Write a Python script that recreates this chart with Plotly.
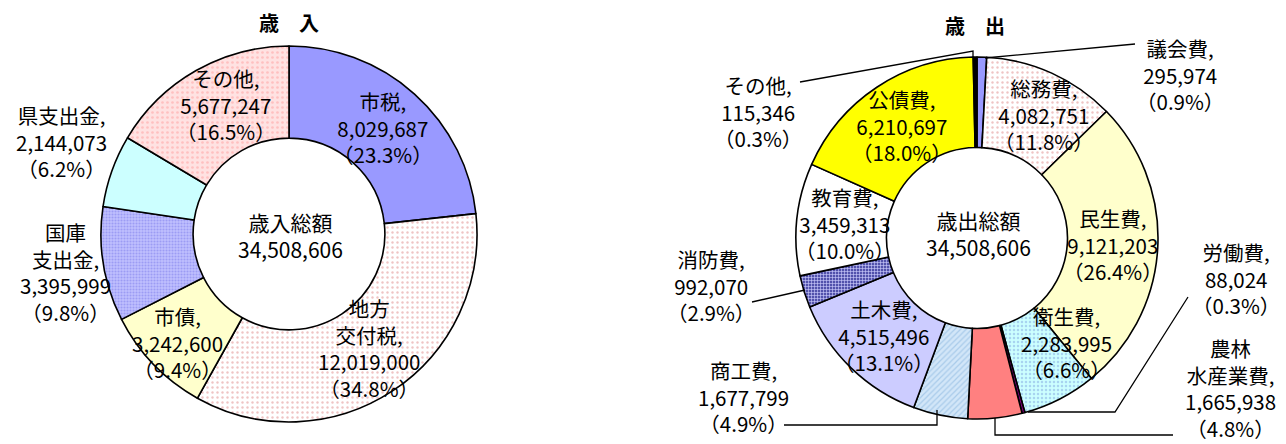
import plotly.graph_objects as go

W, H = 1286, 444
FONT = "Noto Sans CJK JP"

# ---- data: 歳入 (revenue) ----
rev_labels = ["市税", "地方交付税", "市債", "国庫支出金", "県支出金", "その他"]
rev_values = [8029687, 12019000, 3242600, 3395999, 2144073, 5677247]
rev_pcts = ["23.3%", "34.8%", "9.4%", "9.8%", "6.2%", "16.5%"]
rev_total = 34508606

# ---- data: 歳出 (expenditure) ----
exp_labels = ["議会費", "総務費", "民生費", "衛生費", "労働費", "農林水産業費",
              "商工費", "土木費", "消防費", "教育費", "公債費", "その他"]
exp_values = [295974, 4082751, 9121203, 2283995, 88024, 1665938,
              1677799, 4515496, 992070, 3459313, 6210697, 115346]
exp_pcts = ["0.9%", "11.8%", "26.4%", "6.6%", "0.3%", "4.8%",
            "4.9%", "13.1%", "2.9%", "10.0%", "18.0%", "0.3%"]
exp_total = 34508606

# ---- styles ----
rev_colors = ["#9999ff", "#ffffff", "#ffffcc", "#c0c0ff", "#ccffff", "#ffe2e2"]
rev_pat_shape = ["", ".", "", ".", "", "."]
rev_pat_fg = ["#9999ff", "#efc4c4", "#ffffcc", "#9c9cf4", "#ccffff", "#ffc0c0"]
rev_pat_size = [4, 5, 4, 3, 4, 5]
rev_pat_sol = [0.3, 0.18, 0.3, 0.4, 0.3, 0.22]

exp_colors = ["#9999ff", "#ffffff", "#ffffcc", "#ccffff", "#800080", "#ff8080",
              "#d2e6f8", "#ccccff", "#5252ac", "#ffffff", "#ffff00", "#000000"]
exp_pat_shape = ["", ".", "", ".", "", "", "/", "", "+", "", "", ""]
exp_pat_fg = ["#9999ff", "#efc4c4", "#ffffcc", "#a8d4f0", "#800080", "#ff8080",
              "#a9cbea", "#ccccff", "#d0d0ff", "#ffffff", "#ffff00", "#000000"]
exp_pat_size = [4, 5, 4, 4, 4, 4, 4, 4, 3, 4, 4, 4]
exp_pat_sol = [0.3, 0.18, 0.3, 0.3, 0.3, 0.3, 0.3, 0.3, 0.35, 0.3, 0.3, 0.3]


def px(x):
    return x / W


def py(y):
    return 1 - y / H


def dom(cx, cy, r):
    return dict(x=[px(cx - r), px(cx + r)], y=[py(cy + r), py(cy - r)])


fig = go.Figure()

fig.add_trace(go.Pie(
    labels=rev_labels, values=rev_values, sort=False, direction="clockwise",
    rotation=0, hole=0.51, textinfo="none", hoverinfo="label+value",
    domain=dom(289, 234, 188),
    marker=dict(colors=rev_colors, line=dict(color="#000000", width=1.6),
                pattern=dict(shape=rev_pat_shape, fgcolor=rev_pat_fg,
                             bgcolor=rev_colors, size=rev_pat_size,
                             solidity=rev_pat_sol)),
))

fig.add_trace(go.Pie(
    labels=exp_labels, values=exp_values, sort=False, direction="clockwise",
    rotation=0, hole=0.5, textinfo="none", hoverinfo="label+value",
    domain=dom(977, 238, 181),
    marker=dict(colors=exp_colors, line=dict(color="#000000", width=1.6),
                pattern=dict(shape=exp_pat_shape, fgcolor=exp_pat_fg,
                             bgcolor=exp_colors, size=exp_pat_size,
                             solidity=exp_pat_sol)),
))


def fmt(v):
    return f"{v:,}"


def ann(text, x, y, size=20.5, bold=False):
    if bold:
        text = f"<b>{text}</b>"
    fig.add_annotation(x=px(x), y=py(y), xref="paper", yref="paper",
                       text=text, showarrow=False, xanchor="center",
                       yanchor="middle", align="center",
                       font=dict(family=FONT, size=size, color="#000000"))


def slice_text(name, value, pct, head=None):
    parts = head if head is not None else [name + ","]
    return "<br>".join(parts + [fmt(value), f"（{pct}）"])


# titles
ann("歳　入", 289, 22, size=20, bold=True)
ann("歳　出", 975, 26, size=20, bold=True)

# centers
ann(f"歳入総額<br>{fmt(rev_total)}", 290, 235, size=21)
ann(f"歳出総額<br>{fmt(exp_total)}", 978, 234, size=21)

# revenue labels
rev_pos = [(383, 128), (369, 348), (177, 342), (65, 272), (62, 141), (226, 104)]
rev_heads = [None, ["地方", "交付税,"], None, ["国庫", "支出金,"], None, None]
for i, name in enumerate(rev_labels):
    ann(slice_text(name, rev_values[i], rev_pcts[i], rev_heads[i]), *rev_pos[i])

# expenditure labels
exp_pos = [(1180, 75), (1044, 114), (1113, 244), (1066, 342), (1236, 278),
           (1230, 388), (743, 396), (884, 335), (711, 285), (845, 223),
           (902, 125), (758, 112)]
exp_heads = [None] * 12
exp_heads[5] = ["農林", "水産業費,"]
for i, name in enumerate(exp_labels):
    ann(slice_text(name, exp_values[i], exp_pcts[i], exp_heads[i]), *exp_pos[i])

# leader lines (pixel paths)
leaders = [
    [(800, 82), (973, 51), (973, 58)],          # その他
    [(985, 58), (1135, 44)],                    # 議会費
    [(1028, 412), (1115, 412), (1188, 297)],    # 労働費
    [(995, 418), (995, 435), (1173, 435)],      # 農林水産業費
    [(937, 410), (937, 425), (784, 425)],       # 商工費
    [(805, 290), (752, 302)],                   # 消防費
]
for pts in leaders:
    path = "M " + " L ".join(f"{px(x)},{py(y)}" for x, y in pts)
    fig.add_shape(type="path", path=path, xref="paper", yref="paper",
                  line=dict(color="#000000", width=1.3))

fig.update_layout(width=W, height=H, margin=dict(l=0, r=0, t=0, b=0),
                  paper_bgcolor="#ffffff", plot_bgcolor="#ffffff",
                  showlegend=False, font=dict(family=FONT))

fig.write_html(
    "out.html",
    config={"displayModeBar": False},
    post_script="document.body.style.margin='0';document.body.style.overflow='hidden';",
)
